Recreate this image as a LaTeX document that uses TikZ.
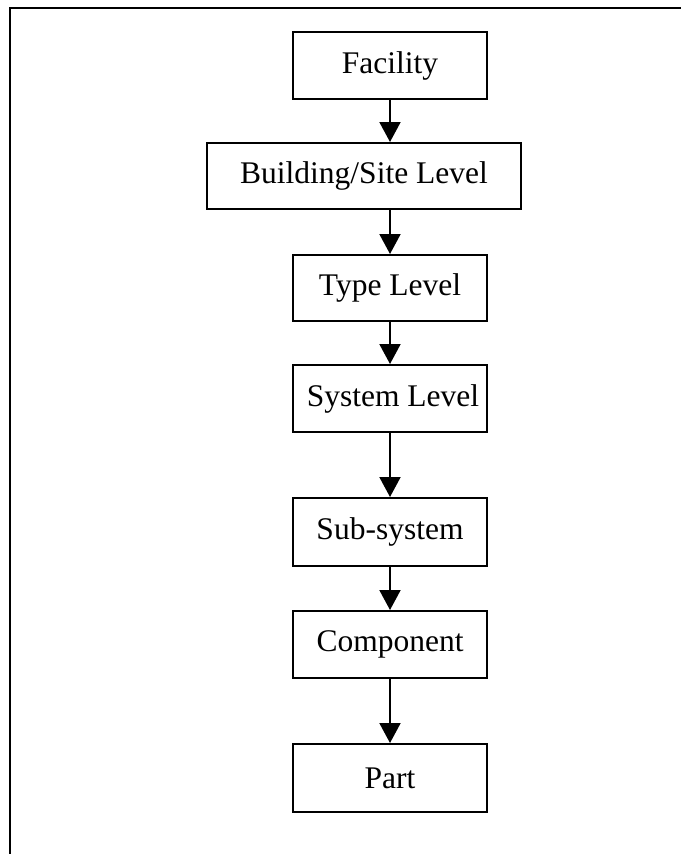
\documentclass[tikz,border=0pt]{standalone}
\usepackage{fontspec}
\setmainfont{Liberation Serif}
\usetikzlibrary{arrows.meta}
\begin{document}
\begin{tikzpicture}[x=1pt,y=-1pt,
  levelbox/.style={draw=black, line width=2pt, rectangle, inner sep=0pt,
    minimum width=194pt, minimum height=67pt,
    font=\fontsize{31.5}{36}\selectfont},
  flow/.style={line width=2pt, -{Triangle[width=21pt,length=20pt]}},
  frame/.style={line width=2.8pt, line cap=rect}]
  \useasboundingbox (0,0) rectangle (680,854);
  % page frame (top and left edges)
  \draw[frame] (10,854) -- (10,8) -- (680,8);
  % hierarchy levels
  \node[levelbox] (fac) at (390,65.5) {Facility};
  \node[levelbox, minimum width=314pt, minimum height=66pt] (bld) at (364,176) {Building/Site Level};
  \node[levelbox, minimum height=66pt] (typ) at (390,288) {Type Level};
  \node[levelbox] (sys) at (390,398.5) {\hspace{6pt}System Level};
  \node[levelbox, minimum height=68pt] (sub) at (390,532) {Sub-system};
  \node[levelbox] (cmp) at (390,644.5) {Component};
  \node[levelbox, minimum height=68pt] (prt) at (390,778) {Part};
  % connectors
  \draw[flow] (fac.south) -- (fac.south |- bld.north);
  \draw[flow] (typ.north |- bld.south) -- (typ.north);
  \draw[flow] (typ.south) -- (sys.north);
  \draw[flow] (sys.south) -- (sub.north);
  \draw[flow] (sub.south) -- (cmp.north);
  \draw[flow] (cmp.south) -- (prt.north);
\end{tikzpicture}
\end{document}
